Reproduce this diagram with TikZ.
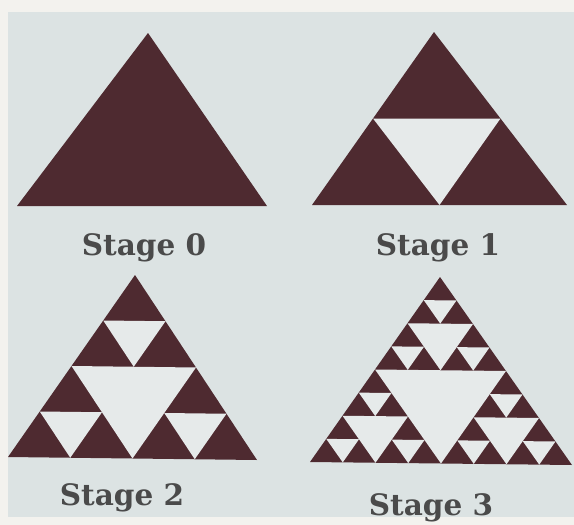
\documentclass[tikz,border=0pt]{standalone}
\usepackage{fontspec}
\setmainfont{DejaVu Serif}
\definecolor{paper}{HTML}{DCE3E3}
\definecolor{edgecol}{HTML}{F3F2EE}
\definecolor{maroon}{HTML}{4E2A30}
\definecolor{holecol}{HTML}{E6EAEA}
\definecolor{labcol}{HTML}{4A4A4A}
\newcommand{\holeat}[3]{\fill[hole] ({#1+#3/2},{#2}) -- ({#1},{#2+#3/2}) -- ({#1+#3/2},{#2+#3/2}) -- cycle;}
\begin{document}
\begin{tikzpicture}[x=1pt,y=-1pt,
  tri/.style={fill=maroon},
  hole/.style={fill=holecol},
  lab/.style={font=\bfseries\fontsize{29.5}{30}\selectfont, text=labcol, anchor=base, inner sep=0pt}]
\useasboundingbox (0,0) rectangle (574,525);
\fill[edgecol] (0,0) rectangle (574,525);
\fill[paper] (8,12) rectangle (574,517);
% Stage 0
\begin{scope}[shift={(17,206)}, x={(250pt,0pt)}, y={(131pt,173pt)}]
  \fill[tri] (0,0) -- (1,0) -- (0,1) -- cycle;
\end{scope}
% Stage 1
\begin{scope}[shift={(312,205)}, x={(255pt,0pt)}, y={(122pt,173pt)}]
  \fill[tri] (0,0) -- (1,0) -- (0,1) -- cycle;
  \holeat{0}{0}{1}
\end{scope}
% Stage 2
\begin{scope}[shift={(8,457)}, x={(249pt,-3pt)}, y={(127pt,182pt)}]
  \fill[tri] (0,0) -- (1,0) -- (0,1) -- cycle;
  \holeat{0}{0}{1}
  \foreach \a/\b in {0/0,0.5/0,0/0.5} {\holeat{\a}{\b}{0.5}}
\end{scope}
% Stage 3
\begin{scope}[shift={(310,462)}, x={(262pt,-3pt)}, y={(130pt,185pt)}]
  \fill[tri] (0,0) -- (1,0) -- (0,1) -- cycle;
  \holeat{0}{0}{1}
  \foreach \a/\b in {0/0,0.5/0,0/0.5} {
    \holeat{\a}{\b}{0.5}
    \foreach \c/\d in {0/0,0.25/0,0/0.25} {\holeat{\a+\c}{\b+\d}{0.25}}
  }
\end{scope}
\node[lab] (s0) at (144,255) {Stage 0};
\node[lab] (s1) at (438,255) {Stage 1};
\node[lab] (s2) at (122,505) {Stage 2};
\node[lab] (s3) at (431,515) {Stage 3};
\end{tikzpicture}
\end{document}
